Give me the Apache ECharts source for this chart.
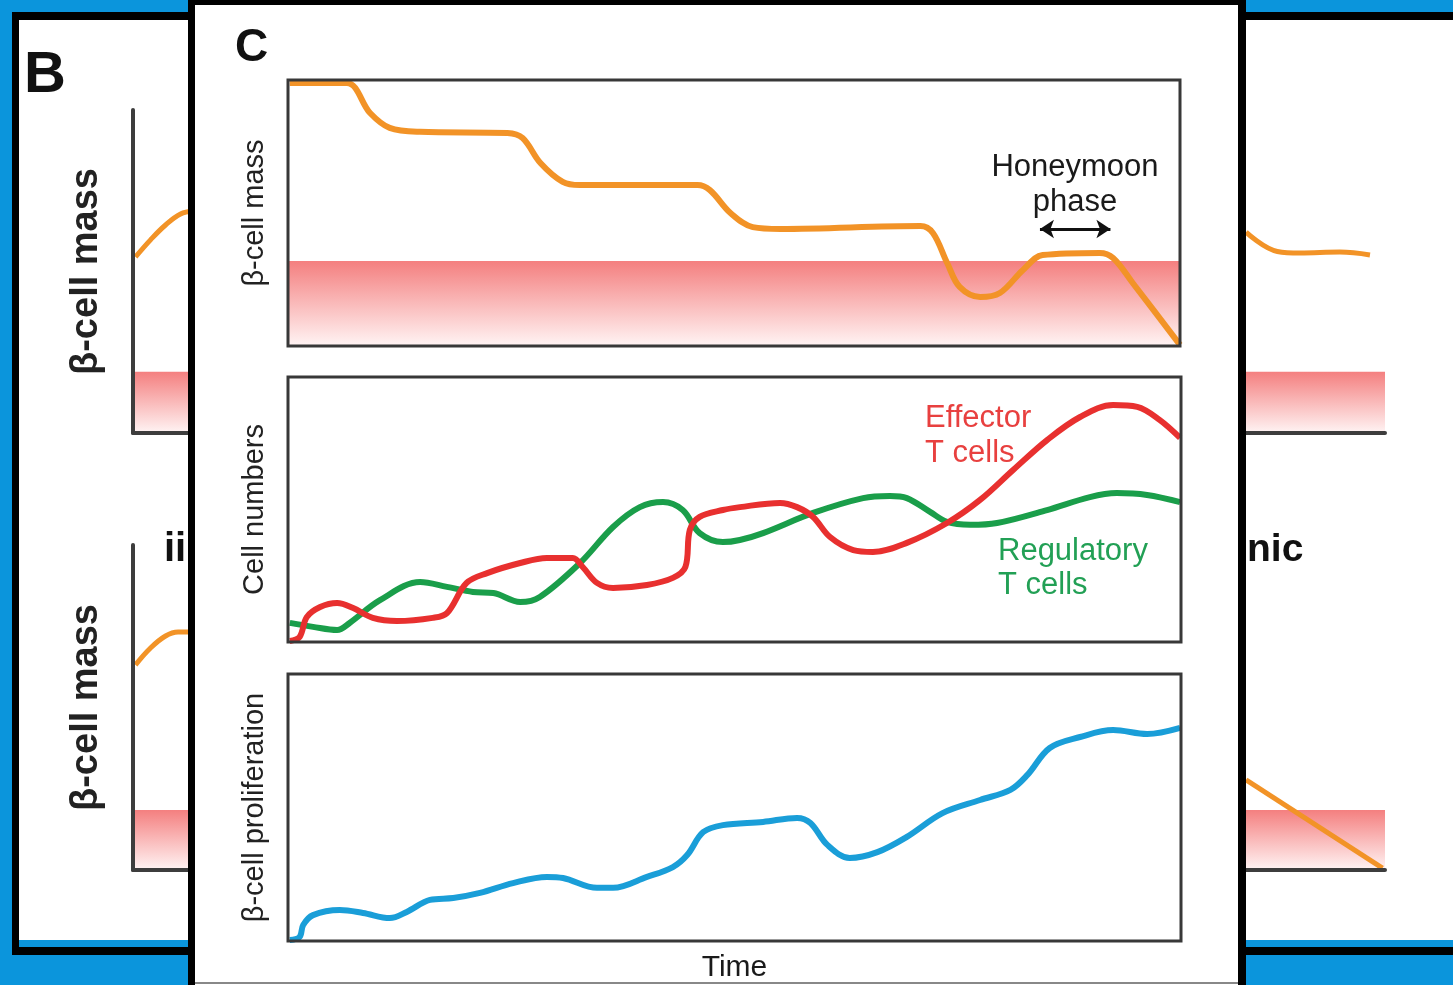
<!DOCTYPE html>
<html>
<head>
<meta charset="utf-8">
<title>beta-cell mass, T cells and proliferation over time</title>
<script src="https://cdn.jsdelivr.net/npm/echarts@6.0.0/dist/echarts.min.js"></script>
<style>
  html, body { margin: 0; padding: 0; background: #0b95dc; }
  #panelB { position: absolute; left: 0; top: 0; width: 1453px; height: 985px; }
  #panelC { position: absolute; left: 188px; top: 0; width: 1058px; height: 985px; }
</style>
</head>
<body>
<div id="panelB"></div>
<div id="panelC"></div>
<script>
// ---- panel B (partly hidden behind C) ----
const bTopLeftTime = [0.2, 1.4, 2.6, 3.8, 4.8];
const bTopLeftMass = [54.5, 59.8, 64.4, 67.8, 68.7];
const bTopRightTime = [88.9, 91.4, 93.2, 96.4, 98.8];
const bTopRightMass = [62.2, 56.2, 55.7, 56.0, 55.1];
const bLowLeftTime = [0.2, 1.4, 2.6, 3.6, 4.8];
const bLowLeftMass = [63.1, 68.3, 72.0, 73.2, 73.2];
const bLowRightTime = [88.9, 99.8];
const bLowRightMass = [27.7, 0.6];
const bThreshold = [19, 18.5];

// ---- panel C ----
const massTime = [0.2, 6.6, 9.2, 11.4, 14.8, 24.6, 26.3, 28.3, 30.8, 32.7, 45.9, 47.3, 49.6, 52.1, 55.2,
  70.9, 72.3, 73.9, 75.3, 77.6, 79.8, 82.4, 84.6, 91.0, 92.5, 94.7, 100];
const massValues = [98.9, 98.9, 87.6, 82.0, 80.5, 80.1, 78.2, 68.8, 61.7, 60.5, 60.5, 58.6, 50.0, 44.7, 44.0,
  45.1, 42.5, 31.2, 22.2, 18.4, 19.9, 28.6, 34.2, 35.0, 33.1, 23.7, 0.4];
const massThreshold = 32;
const honeymoonStart = 84.3, honeymoonEnd = 92.2, honeymoonLevel = 44;

const regTime = [0.2, 2.8, 5.5, 6.9, 10.3, 14.8, 17.8, 20.7, 23.0, 26.0, 28.2, 32.7, 36.4, 39.4, 42.0, 44.2,
  46.1, 48.7, 50.6, 53.2, 58.8, 64.4, 67.4, 69.3, 71.9, 73.8, 76.4, 79.4, 85.0, 89.8, 92.8, 96.2, 99.9];
const regValues = [7.2, 5.7, 4.5, 7.2, 15.8, 22.6, 20.8, 18.9, 18.5, 15.1, 17.0, 29.8, 43.4, 50.9, 52.8, 49.8,
  41.1, 37.7, 38.5, 41.1, 48.7, 54.3, 55.1, 54.3, 49.1, 45.3, 44.2, 44.9, 49.8, 54.7, 56.2, 55.5, 52.8];

const effTime = [0.2, 1.3, 2.1, 3.6, 5.5, 7.3, 9.5, 12.2, 16.2, 17.8, 20.0, 22.3, 26.0, 29.0, 31.9, 33.0,
  34.6, 36.4, 40.2, 43.1, 44.5, 45.0, 46.1, 48.7, 50.6, 55.1, 57.0, 58.8, 60.7, 63.3, 65.5, 69.3, 73.8,
  77.5, 81.2, 85.0, 88.7, 92.4, 95.1, 97.6, 99.9];
const effValues = [0.4, 1.9, 9.4, 13.2, 14.7, 12.8, 9.1, 7.9, 9.1, 10.9, 22.3, 26.0, 29.8, 31.7, 31.7, 28.3,
  22.3, 20.4, 21.5, 24.2, 28.3, 42.3, 47.2, 49.8, 50.9, 52.5, 50.9, 47.2, 39.6, 34.7, 34.0, 37.4, 44.9,
  53.6, 64.9, 76.2, 84.9, 89.4, 88.7, 83.8, 77.0];

const prolTime = [0.2, 1.3, 1.7, 2.8, 5.8, 8.4, 11.4, 13.3, 15.9, 18.5, 21.5, 25.2, 29.0, 30.8, 34.6, 36.4,
  40.2, 43.1, 44.7, 46.5, 48.7, 53.2, 57.0, 58.5, 60.4, 62.9, 66.0, 69.3, 73.3, 77.5, 80.9, 82.8, 85.3,
  88.7, 92.4, 96.2, 99.9];
const prolValues = [0.4, 1.5, 6.0, 9.7, 11.6, 10.5, 8.6, 10.9, 15.4, 16.1, 18.0, 21.7, 24.0, 23.6, 19.9, 19.9,
  24.0, 27.7, 32.2, 40.8, 43.4, 44.6, 46.1, 44.2, 36.0, 31.1, 33.3, 39.0, 47.9, 52.8, 56.6, 62.2, 72.3,
  76.4, 79.0, 77.5, 79.8];

const ORANGE = '#f29327';
const GREEN = '#1a9e4a';
const RED = '#e8302f';
const BLUE = '#1a9ed8';
const FONT = 'Liberation Sans, Arial, sans-serif';

function pairs(xs, ys) {
  return xs.map((x, i) => [x, ys[i]]);
}

function band() {
  return new echarts.graphic.LinearGradient(0, 0, 0, 1, [
    {offset: 0, color: '#f47f7f'},
    {offset: 1, color: '#fff4f4'}
  ]);
}

// ---------- chart B ----------
const chartB = echarts.init(document.getElementById('panelB'), null, {renderer: 'canvas'});
const bAxisLine = {show: true, onZero: false, lineStyle: {color: '#3d3d3d', width: 4}};
const bYName = {
  name: 'β-cell mass', nameLocation: 'middle', nameRotate: 90, nameGap: 27,
  nameTextStyle: {fontFamily: FONT, fontSize: 38, fontWeight: 'bold', color: '#222'}
};
chartB.setOption({
  animation: false,
  backgroundColor: '#0b95dc',
  graphic: [
    {type: 'rect', shape: {x: 12, y: 12, width: 1460, height: 943}, style: {fill: '#000'}},
    {type: 'rect', shape: {x: 19, y: 20, width: 1440, height: 927}, style: {fill: '#0b95dc'}},
    {type: 'rect', shape: {x: 19, y: 20, width: 1440, height: 920}, style: {fill: '#fff'}},
    {type: 'text', x: 24, y: 76, style: {text: 'B', fontFamily: FONT, fontSize: 58, fontWeight: 'bold',
      fill: '#111', textVerticalAlign: 'middle'}},
    {type: 'text', x: 164, y: 550, style: {text: 'ii', fontFamily: FONT, fontSize: 40, fontWeight: 'bold',
      fill: '#111', textVerticalAlign: 'middle'}},
    {type: 'text', x: 1247, y: 550, style: {text: 'nic', fontFamily: FONT, fontSize: 39, fontWeight: 'bold',
      fill: '#111', textVerticalAlign: 'middle'}}
  ],
  grid: [
    {left: 133, top: 110, width: 1252, height: 323, outerBoundsMode: 'none'},
    {left: 133, top: 545, width: 1252, height: 325, outerBoundsMode: 'none'}
  ],
  xAxis: [0, 1].map(i => ({
    type: 'value', gridIndex: i, min: 0, max: 100, z: 8,
    axisLine: bAxisLine, axisTick: {show: false}, axisLabel: {show: false}, splitLine: {show: false}
  })),
  yAxis: [0, 1].map(i => Object.assign({
    type: 'value', gridIndex: i, min: 0, max: 100, z: 8,
    axisLine: bAxisLine, axisTick: {show: false}, axisLabel: {show: false}, splitLine: {show: false}
  }, bYName)),
  series: [
    {type: 'line', xAxisIndex: 0, yAxisIndex: 0, data: pairs(bTopLeftTime, bTopLeftMass), smooth: 0.4,
      showSymbol: false, lineStyle: {color: ORANGE, width: 5},
      markArea: {silent: true, itemStyle: {color: band()}, data: [[{yAxis: 0}, {yAxis: bThreshold[0]}]]}},
    {type: 'line', xAxisIndex: 0, yAxisIndex: 0, data: pairs(bTopRightTime, bTopRightMass), smooth: 0.4,
      showSymbol: false, lineStyle: {color: ORANGE, width: 5}},
    {type: 'line', xAxisIndex: 1, yAxisIndex: 1, data: pairs(bLowLeftTime, bLowLeftMass), smooth: 0.4,
      showSymbol: false, lineStyle: {color: ORANGE, width: 5},
      markArea: {silent: true, itemStyle: {color: band()}, data: [[{yAxis: 0}, {yAxis: bThreshold[1]}]]}},
    {type: 'line', xAxisIndex: 1, yAxisIndex: 1, data: pairs(bLowRightTime, bLowRightMass),
      showSymbol: false, lineStyle: {color: ORANGE, width: 5}}
  ]
});

// ---------- chart C ----------
const chartC = echarts.init(document.getElementById('panelC'), null, {renderer: 'canvas'});
const cYName = (name) => ({
  name: name, nameLocation: 'middle', nameRotate: 90, nameGap: 19,
  nameTextStyle: {fontFamily: FONT, fontSize: 29, color: '#222'}
});
const hidden = {axisLine: {show: false}, axisTick: {show: false}, axisLabel: {show: false}, splitLine: {show: false}};
const boxGrid = {show: true, z: 8, borderColor: '#383838', borderWidth: 3, backgroundColor: 'transparent',
  outerBoundsMode: 'none'};
chartC.setOption({
  animation: false,
  backgroundColor: '#fff',
  graphic: [
    {type: 'rect', shape: {x: 0, y: 0, width: 7, height: 985}, style: {fill: '#000'}},
    {type: 'rect', shape: {x: 1050, y: 0, width: 8, height: 985}, style: {fill: '#000'}},
    {type: 'rect', shape: {x: 0, y: 0, width: 1058, height: 5}, style: {fill: '#000'}},
    {type: 'rect', shape: {x: 7, y: 982, width: 1043, height: 2}, style: {fill: '#888'}},
    {type: 'text', x: 47, y: 48, style: {text: 'C', fontFamily: FONT, fontSize: 46, fontWeight: 'bold',
      fill: '#111', textVerticalAlign: 'middle'}},
    {type: 'text', x: 887, y: 167, style: {text: 'Honeymoon', fontFamily: FONT, fontSize: 31,
      fill: '#1a1a1a', textAlign: 'center', textVerticalAlign: 'middle'}},
    {type: 'text', x: 887, y: 202, style: {text: 'phase', fontFamily: FONT, fontSize: 31,
      fill: '#1a1a1a', textAlign: 'center', textVerticalAlign: 'middle'}},
    {type: 'text', x: 737, y: 418, style: {text: 'Effector', fontFamily: FONT, fontSize: 31,
      fill: '#e8403f', textVerticalAlign: 'middle'}},
    {type: 'text', x: 737, y: 453, style: {text: 'T cells', fontFamily: FONT, fontSize: 31,
      fill: '#e8403f', textVerticalAlign: 'middle'}},
    {type: 'text', x: 810, y: 551, style: {text: 'Regulatory', fontFamily: FONT, fontSize: 31,
      fill: '#22a055', textVerticalAlign: 'middle'}},
    {type: 'text', x: 810, y: 585, style: {text: 'T cells', fontFamily: FONT, fontSize: 31,
      fill: '#22a055', textVerticalAlign: 'middle'}}
  ],
  grid: [
    Object.assign({left: 100, top: 80, width: 892, height: 266}, boxGrid),
    Object.assign({left: 100, top: 377, width: 893, height: 265}, boxGrid),
    Object.assign({left: 100, top: 674, width: 893, height: 267}, boxGrid)
  ],
  xAxis: [0, 1, 2].map(i => Object.assign({type: 'value', gridIndex: i, min: 0, max: 100}, hidden,
    i === 2 ? {name: 'Time', nameLocation: 'middle', nameGap: 12,
      nameTextStyle: {fontFamily: FONT, fontSize: 30, color: '#1a1a1a', verticalAlign: 'top'}} : {})),
  yAxis: [
    Object.assign({type: 'value', gridIndex: 0, min: 0, max: 100}, hidden, cYName('β-cell mass')),
    Object.assign({type: 'value', gridIndex: 1, min: 0, max: 100}, hidden, cYName('Cell numbers')),
    Object.assign({type: 'value', gridIndex: 2, min: 0, max: 100}, hidden, cYName('β-cell proliferation'))
  ],
  series: [
    {name: 'β-cell mass', type: 'line', xAxisIndex: 0, yAxisIndex: 0, data: pairs(massTime, massValues),
      smooth: 0.35, showSymbol: false, lineStyle: {color: ORANGE, width: 6},
      markArea: {silent: true, itemStyle: {color: band()}, data: [[{yAxis: 0}, {yAxis: massThreshold}]]},
      markLine: {silent: true, symbol: ['arrow', 'arrow'], symbolSize: [14, 14], label: {show: false},
        lineStyle: {color: '#111', width: 3, type: 'solid'},
        data: [[{coord: [honeymoonStart, honeymoonLevel]}, {coord: [honeymoonEnd, honeymoonLevel]}]]}},
    {name: 'Regulatory T cells', type: 'line', xAxisIndex: 1, yAxisIndex: 1, data: pairs(regTime, regValues),
      smooth: 0.35, showSymbol: false, lineStyle: {color: GREEN, width: 6}},
    {name: 'Effector T cells', type: 'line', xAxisIndex: 1, yAxisIndex: 1, data: pairs(effTime, effValues),
      smooth: 0.35, showSymbol: false, lineStyle: {color: RED, width: 6}},
    {name: 'β-cell proliferation', type: 'line', xAxisIndex: 2, yAxisIndex: 2, data: pairs(prolTime, prolValues),
      smooth: 0.35, showSymbol: false, lineStyle: {color: BLUE, width: 6}}
  ]
});
</script>
</body>
</html>
